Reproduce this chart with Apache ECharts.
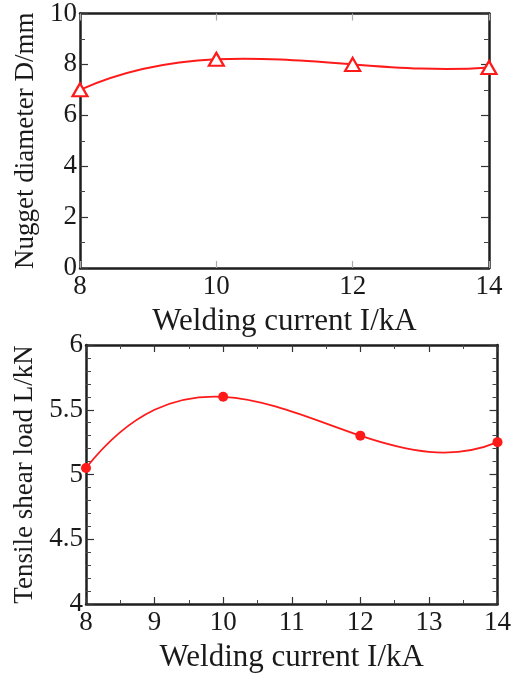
<!DOCTYPE html>
<html>
<head>
<meta charset="utf-8">
<script src="https://cdn.jsdelivr.net/npm/echarts@6/dist/echarts.min.js"></script>
<style>html,body{margin:0;padding:0;background:#fff;}#c{width:514px;height:674px;}</style>
</head>
<body>
<div id="c"></div>
<script>
var currents = [8, 10, 12, 14];
var nuggetDiameter = [7.0, 8.2, 8.0, 7.88];
var shearLoad = [5.05, 5.6, 5.3, 5.25];
var xTitle = 'Welding current I/kA';
var yTitleTop = 'Nugget diameter D/mm';
var yTitleBottom = 'Tensile shear load L/kN';

var FONT = 'Liberation Serif';
var AX = '#1e1e1e';
var RED = '#ff1a1a';

// Slopes at the nodes of the not-a-knot spline (for 4 nodes: the interpolating cubic)
function nodeSlopes(xs, ys) {
  var n = xs.length, s = [];
  for (var j = 0; j < n; j++) {
    var d = 0;
    for (var i = 0; i < n; i++) {
      var li;
      if (i === j) {
        li = 0;
        for (var k = 0; k < n; k++) if (k !== j) li += 1 / (xs[j] - xs[k]);
      } else {
        var num = 1, den = 1;
        for (var k2 = 0; k2 < n; k2++) {
          if (k2 !== i) den *= (xs[i] - xs[k2]);
          if (k2 !== i && k2 !== j) num *= (xs[j] - xs[k2]);
        }
        li = num / den;
      }
      d += ys[i] * li;
    }
    s.push(d);
  }
  return s;
}

function splineRenderer(xs, ys, width) {
  var s = nodeSlopes(xs, ys);
  return function (params, api) {
    if (params.dataIndex !== 0) return null;
    var children = [];
    for (var i = 0; i < xs.length - 1; i++) {
      var h = xs[i + 1] - xs[i];
      var p0 = api.coord([xs[i], ys[i]]);
      var p1 = api.coord([xs[i] + h / 3, ys[i] + s[i] * h / 3]);
      var p2 = api.coord([xs[i + 1] - h / 3, ys[i + 1] - s[i + 1] * h / 3]);
      var p3 = api.coord([xs[i + 1], ys[i + 1]]);
      children.push({
        type: 'bezierCurve',
        shape: { x1: p0[0], y1: p0[1], cpx1: p1[0], cpy1: p1[1], cpx2: p2[0], cpy2: p2[1], x2: p3[0], y2: p3[1] },
        style: { stroke: RED, lineWidth: width, fill: null }
      });
    }
    return { type: 'group', children: children };
  };
}

function xAxis(grid, pos, min, max, interval, minorSplit, showLabel, name, tickColor) {
  return {
    type: 'value', gridIndex: grid, position: pos, min: min, max: max, interval: interval,
    name: name || '', nameLocation: 'middle', nameGap: 38,
    nameTextStyle: { fontFamily: FONT, fontSize: 31, color: '#1a1a1a' },
    axisLine: { show: true, onZero: false, lineStyle: { color: AX, width: 2.5 } },
    axisTick: { show: true, inside: true, length: 7, lineStyle: { color: tickColor || '#333', width: 1.2 } },
    minorTick: { show: minorSplit > 1, splitNumber: minorSplit, length: 4, lineStyle: { color: '#444', width: 1 } },
    axisLabel: { show: showLabel, margin: 5, fontFamily: FONT, fontSize: 27, color: '#1a1a1a' },
    splitLine: { show: false }
  };
}
function yAxis(grid, pos, min, max, interval, minorSplit, showLabel, name, gap) {
  return {
    type: 'value', gridIndex: grid, position: pos, min: min, max: max, interval: interval,
    name: name || '', nameLocation: 'middle', nameGap: gap || 44,
    nameTextStyle: { fontFamily: FONT, fontSize: 27, color: '#1a1a1a' },
    axisLine: { show: true, onZero: false, lineStyle: { color: AX, width: 2.5 } },
    axisTick: { show: true, inside: true, length: 8, lineStyle: { color: '#333', width: 1.2 } },
    minorTick: { show: true, splitNumber: minorSplit, length: 5, lineStyle: { color: '#444', width: 1 } },
    axisLabel: { show: showLabel, margin: 3, fontFamily: FONT, fontSize: 27, color: '#1a1a1a' },
    splitLine: { show: false }
  };
}

var topData = currents.map(function (x, i) { return [x, nuggetDiameter[i]]; });
var bottomData = currents.map(function (x, i) { return [x, shearLoad[i]]; });

var chart = echarts.init(document.getElementById('c'), null, { renderer: 'canvas' });
chart.setOption({
  backgroundColor: '#fff',
  animation: false,
  grid: [
    { left: 80, right: 25, top: 13, height: 255 },
    { left: 86, right: 14, top: 345, height: 262 }
  ],
  xAxis: [
    xAxis(0, 'bottom', 8, 14, 2, 0, true, xTitle, '#aaa'),
    xAxis(0, 'top', 8, 14, 2, 0, false, '', '#aaa'),
    xAxis(1, 'bottom', 8, 14, 1, 2, true, xTitle),
    xAxis(1, 'top', 8, 14, 1, 2, false, '')
  ],
  yAxis: [
    yAxis(0, 'left', 0, 10, 2, 2, true, yTitleTop, 41),
    yAxis(0, 'right', 0, 10, 2, 2, false, ''),
    yAxis(1, 'left', 4, 6, 0.5, 5, true, yTitleBottom, 43),
    yAxis(1, 'right', 4, 6, 0.5, 5, false, '')
  ],
  series: [
    {
      type: 'custom', xAxisIndex: 0, yAxisIndex: 0, data: topData,
      encode: { x: 0, y: 1 }, clip: false, z: 4,
      renderItem: splineRenderer(currents, nuggetDiameter, 2)
    },
    {
      type: 'scatter', xAxisIndex: 0, yAxisIndex: 0, data: topData,
      symbol: 'triangle', symbolSize: [15, 13], clip: false,
      itemStyle: { color: '#fff', borderColor: RED, borderWidth: 2.2, opacity: 1 },
      z: 5
    },
    {
      type: 'custom', xAxisIndex: 2, yAxisIndex: 2, data: bottomData,
      encode: { x: 0, y: 1 }, clip: false, z: 4,
      renderItem: splineRenderer(currents, shearLoad, 1.8)
    },
    {
      type: 'scatter', xAxisIndex: 2, yAxisIndex: 2, data: bottomData,
      symbol: 'circle', symbolSize: 10, clip: false,
      itemStyle: { color: RED, borderWidth: 0, opacity: 1 },
      z: 5
    }
  ]
});
</script>
</body>
</html>
